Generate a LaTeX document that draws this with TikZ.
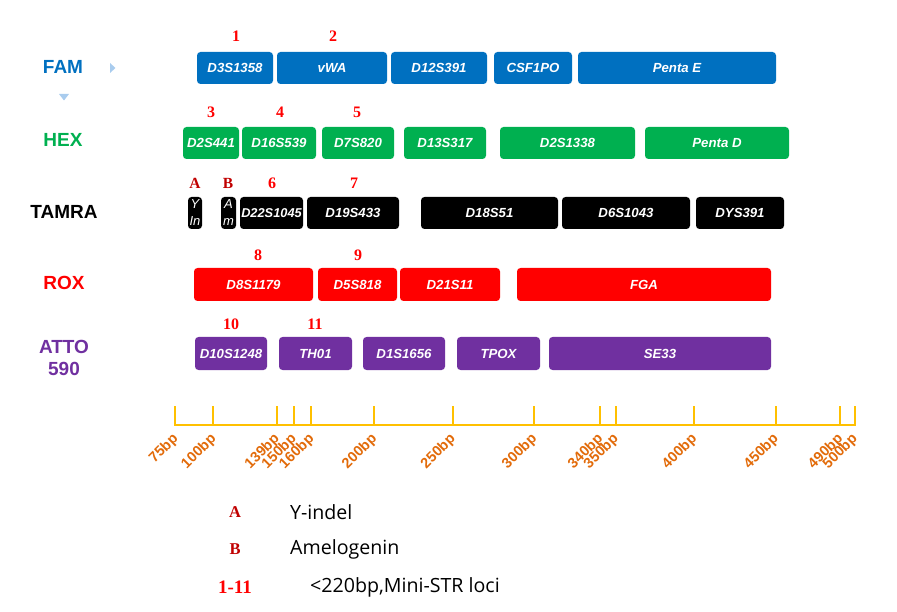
\documentclass[tikz,border=0pt]{standalone}
\usepackage{fontspec}
\setmainfont{Liberation Sans}
\newfontfamily\arialf{Liberation Sans}
\newfontfamily\timesf{Liberation Serif}
\newfontfamily\legf{Open Sans}
\usetikzlibrary{shapes.geometric}
\definecolor{famblue}{HTML}{0070C0}
\definecolor{hexgreen}{HTML}{00B050}
\definecolor{roxred}{HTML}{FF0000}
\definecolor{attopurple}{HTML}{7030A0}
\definecolor{axisyellow}{HTML}{FFC000}
\definecolor{tickorange}{HTML}{E26B0A}
\definecolor{lightblue}{HTML}{A9CCEE}
\definecolor{darkred}{HTML}{C00000}
\tikzset{
  locus/.style={rectangle, rounded corners=3.5pt, minimum height=32pt, inner sep=0pt,
    text=white, font=\arialf\fontsize{13.2}{14}\selectfont\bfseries\itshape, align=center},
  dyelabel/.style={font=\arialf\fontsize{19}{22}\selectfont\bfseries, align=center},
  numlabel/.style={font=\timesf\fontsize{16}{18}\selectfont\bfseries, text=roxred},
  letlabel/.style={font=\timesf\fontsize{15.5}{17}\selectfont\bfseries, text=darkred},
  axisline/.style={draw=axisyellow, line width=2pt},
  ticklabel/.style={font=\arialf\fontsize{14.5}{15}\selectfont\bfseries, text=tickorange, rotate=45, anchor=east, inner sep=1pt},
  legtext/.style={font=\legf\fontsize{19.6}{22}\selectfont, anchor=west, inner sep=0pt},
  tri/.style={fill=lightblue, draw=none}
}
\begin{document}
\begin{tikzpicture}[x=1pt, y=-1pt]
\useasboundingbox (0,0) rectangle (897,612);
% dye labels
\node[dyelabel, text=famblue] (fam) at (63,67) {FAM};
\node[dyelabel, text=hexgreen] (hex) at (63,140) {HEX};
\node[dyelabel, text=black] (tamra) at (64,212) {TAMRA};
\node[dyelabel, text=roxred] (rox) at (64,283) {ROX};
\node[dyelabel, text=attopurple, font=\arialf\fontsize{19}{22}\selectfont\bfseries] (atto) at (64,358) {ATTO\\590};
% small triangles
\fill[tri] (110,63) -- (115.5,68) -- (110,73) -- cycle;
\fill[tri] (59,94) -- (69,94) -- (64,100.5) -- cycle;
% FAM row
\begin{scope}[every node/.style={locus, fill=famblue}]
\node[minimum width=76pt] (d3) at (235,68) {D3S1358};
\node[minimum width=110pt] (vwa) at (332,68) {vWA};
\node[minimum width=96pt] (d12) at (439,68) {D12S391};
\node[minimum width=78pt] (csf) at (533,68) {CSF1PO};
\node[minimum width=198pt] (pe) at (677,68) {Penta E};
\end{scope}
% HEX row
\begin{scope}[every node/.style={locus, fill=hexgreen}]
\node[minimum width=56pt] (d2a) at (211,143) {D2S441};
\node[minimum width=74pt] (d16) at (279,143) {D16S539};
\node[minimum width=72pt] (d7) at (358,143) {D7S820};
\node[minimum width=82pt] (d13) at (445,143) {D13S317};
\node[minimum width=135pt] (d2b) at (567.5,143) {D2S1338};
\node[minimum width=144pt] (pd) at (717,143) {Penta D};
\end{scope}
% TAMRA row
\begin{scope}[every node/.style={locus, fill=black}]
\node[minimum width=14pt, font=\arialf\fontsize{13}{17}\selectfont\itshape] (yin) at (195,213) {Y\\In};
\node[minimum width=15pt, font=\arialf\fontsize{13}{17}\selectfont\itshape] (am) at (228.5,213) {A\\m};
\node[minimum width=63pt, font=\arialf\fontsize{12.8}{14}\selectfont\bfseries\itshape] (d22) at (271.5,213) {D22S1045};
\node[minimum width=92pt] (d19) at (353,213) {D19S433};
\node[minimum width=137pt] (d18) at (489.5,213) {D18S51};
\node[minimum width=128pt] (d6) at (626,213) {D6S1043};
\node[minimum width=88pt] (dys) at (740,213) {DYS391};
\end{scope}
% ROX row
\begin{scope}[every node/.style={locus, fill=roxred, minimum height=33pt}]
\node[minimum width=119pt] (d8) at (253.5,284.5) {D8S1179};
\node[minimum width=79pt] (d5) at (357.5,284.5) {D5S818};
\node[minimum width=100pt] (d21) at (450,284.5) {D21S11};
\node[minimum width=254pt] (fga) at (644,284.5) {FGA};
\end{scope}
% ATTO row
\begin{scope}[every node/.style={locus, fill=attopurple, minimum height=33pt}]
\node[minimum width=72pt] (d10) at (231,353.5) {D10S1248};
\node[minimum width=73pt] (th) at (315.5,353.5) {TH01};
\node[minimum width=82pt] (d1) at (404,353.5) {D1S1656};
\node[minimum width=83pt] (tpox) at (498.5,353.5) {TPOX};
\node[minimum width=222pt] (se) at (660,353.5) {SE33};
\end{scope}
% numbers
\node[numlabel] (n1) at (236,36) {1};
\node[numlabel] (n2) at (333,36) {2};
\node[numlabel] (n3) at (211,112) {3};
\node[numlabel] (n4) at (280,112) {4};
\node[numlabel] (n5) at (357,112) {5};
\node[letlabel] (la) at (195,183) {A};
\node[letlabel] (lb) at (228,183) {B};
\node[numlabel] (n6) at (272,183) {6};
\node[numlabel] (n7) at (354,183) {7};
\node[numlabel] (n8) at (258,255) {8};
\node[numlabel] (n9) at (358,255) {9};
\node[numlabel] (n10) at (231,324) {10};
\node[numlabel] (n11) at (315,324) {11};
% axis
\coordinate (axL) at (175.3,425);
\coordinate (axR) at (854.7,425);
\draw[axisline] (axL) -- (axR);
\foreach \x/\lab in {175.3/75bp, 213.3/100bp, 276.7/139bp, 293.7/150bp, 311.3/160bp, 374/200bp, 452.7/250bp, 534/300bp, 600/340bp, 615.7/350bp, 694/400bp, 775.7/450bp, 840/490bp, 854.7/500bp}{
  \draw[axisline] (\x,406) -- (\x,426);
  \node[ticklabel] at (\x+1.5,436) {\lab};
}
% legend
\node[letlabel, font=\timesf\fontsize{16.5}{18}\selectfont\bfseries] (lega) at (235,512) {A};
\node[legtext] (legat) at (290,512) {Y-indel};
\node[letlabel, font=\timesf\fontsize{16.5}{18}\selectfont\bfseries] (legb) at (235,549) {B};
\node[legtext] (legbt) at (290,549) {Amelogenin};
\node[numlabel, font=\timesf\fontsize{19}{20}\selectfont\bfseries] (legc) at (235,587) {1-11};
\node[legtext] (legct) at (310,587) {<220bp,Mini-STR loci};
\end{tikzpicture}
\end{document}
